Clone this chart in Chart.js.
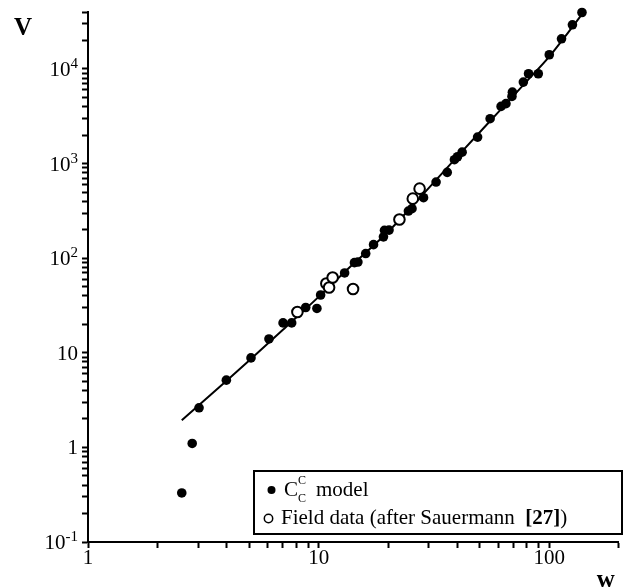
<!DOCTYPE html>
<html>
<head>
<meta charset="utf-8">
<title>V against w</title>
<script src="https://cdn.jsdelivr.net/npm/chart.js@4.4.1/dist/chart.umd.min.js"></script>
<style>
  html, body { margin: 0; padding: 0; background: #fff; }
  #wrap { width: 626px; height: 588px; }
</style>
</head>
<body>
<div id="wrap"><canvas id="chart" width="626" height="588"></canvas></div>
<script>
// C_C^C model results (w, V)
const modelW = [2.55, 2.83, 3.03, 3.98, 5.09, 6.09, 7.01, 7.64, 8.79, 9.83,
  10.2, 12.96, 14.3, 14.8, 16.0, 17.3, 19.1, 19.3, 20.2, 24.5,
  25.4, 28.5, 32.3, 36.1, 38.8, 40.0, 41.9, 48.9, 55.4, 61.8,
  64.9, 68.9, 69.2, 77.2, 81.3, 89.6, 100, 113, 126, 138.6];
const modelV = [0.33, 1.10, 2.62, 5.14, 8.83, 14.0, 20.7, 20.7, 30.1, 29.4,
  40.8, 69.8, 89.7, 91, 112, 139, 168, 197, 198, 315,
  334, 436, 638, 807, 1099, 1180, 1321, 1905, 2980, 4020,
  4300, 5130, 5690, 7260, 8900, 8900, 14130, 20840, 29300, 39500];

// field data (after Sauermann [27])
const fieldW = [8.09, 10.8, 11.1, 11.5, 14.1, 22.4, 25.6, 27.4];
const fieldV = [27.0, 54.0, 48.9, 62.4, 47.3, 256, 426, 543];

// fitted curve
const fitW = [2.55, 4, 5, 7, 10, 14, 20, 30, 40, 60, 80, 100, 120, 141];
const fitV = [1.94, 5.1, 8.3, 17.5, 39, 85, 190, 550, 1190, 3480, 7450, 13500, 23800, 40000];

// axis ticks
const xMinorTicks = [1, 2, 3, 4, 5, 6, 7, 8, 9, 10, 20, 30, 40, 50, 60, 70, 80, 90, 100, 200];
const xTickLabels = [[1, '1'], [10, '10'], [100, '100']];
const yTickLabels = [[0.1, '10', '-1'], [1, '1', ''], [10, '10', ''], [100, '10', '2'], [1000, '10', '3'], [10000, '10', '4']];

const yMinorTicks = [];
[0.1, 1, 10, 100, 1000, 10000].forEach((dec) => {
  for (let k = 1; k <= 9; k++) {
    const v = dec * k;
    if (v <= 40000) yMinorTicks.push(v);
  }
});

const toPoints = (xs, ys) => xs.map((x, i) => ({ x: x, y: ys[i] }));

const SERIF = '"Liberation Serif", "DejaVu Serif", serif';

const textPlugin = {
  id: 'textPlugin',
  afterDraw(chart) {
    const ctx = chart.ctx;
    const xs = chart.scales.x;
    const ys = chart.scales.y;
    const area = chart.chartArea;
    ctx.save();
    ctx.fillStyle = '#000';

    // y labels with exponents
    const rightEdge = area.left - 10;
    yTickLabels.forEach(([v, base, exp]) => {
      const py = ys.getPixelForValue(v);
      ctx.font = '15px ' + SERIF;
      const ew = exp ? ctx.measureText(exp).width : 0;
      ctx.textAlign = 'right';
      ctx.textBaseline = 'alphabetic';
      if (exp) ctx.fillText(exp, rightEdge, py - 1);
      ctx.font = '21px ' + SERIF;
      ctx.fillText(base, rightEdge - ew, py + 7);
    });

    // x labels
    ctx.font = '21px ' + SERIF;
    ctx.textAlign = 'center';
    ctx.textBaseline = 'top';
    xTickLabels.forEach(([v, t]) => {
      ctx.fillText(t, xs.getPixelForValue(v), area.bottom + 6);
    });

    // axis names
    ctx.font = 'bold 25px ' + SERIF;
    ctx.textAlign = 'left';
    ctx.textBaseline = 'alphabetic';
    ctx.fillText('V', 14, 35);
    ctx.fillText('w', area.right - 22, 587);

    // legend
    const bx = 254, by = 471, bw = 368, bh = 63;
    ctx.fillStyle = '#fff';
    ctx.fillRect(bx, by, bw, bh);
    ctx.strokeStyle = '#000';
    ctx.lineWidth = 2;
    ctx.strokeRect(bx, by, bw, bh);
    ctx.fillStyle = '#000';

    ctx.beginPath();
    ctx.arc(271.5, 490, 4, 0, Math.PI * 2);
    ctx.fill();
    ctx.font = '21px ' + SERIF;
    ctx.fillText('C', 284, 496);
    ctx.font = '12px ' + SERIF;
    ctx.fillText('C', 298, 484);
    ctx.fillText('C', 298, 502);
    ctx.font = '21px ' + SERIF;
    ctx.fillText('model', 316, 496);

    ctx.beginPath();
    ctx.arc(268.5, 518.5, 4.2, 0, Math.PI * 2);
    ctx.lineWidth = 1.5;
    ctx.stroke();
    let tx = 281;
    const part1 = 'Field data (after Sauermann  ';
    ctx.font = '21px ' + SERIF;
    ctx.fillText(part1, tx, 524);
    tx += ctx.measureText(part1).width;
    ctx.font = 'bold 21px ' + SERIF;
    ctx.fillText('[27]', tx, 524);
    tx += ctx.measureText('[27]').width;
    ctx.font = '21px ' + SERIF;
    ctx.fillText(')', tx, 524);
    ctx.restore();
  }
};

const axisCommon = {
  type: 'logarithmic',
  border: { display: true, color: '#000', width: 2 },
  grid: {
    display: true,
    drawOnChartArea: false,
    drawTicks: true,
    tickLength: 6,
    tickColor: '#000',
    tickWidth: 2
  },
  ticks: { display: false }
};

new Chart(document.getElementById('chart').getContext('2d'), {
  type: 'scatter',
  data: {
    datasets: [
      {
        label: 'Field data (after Sauermann [27])',
        data: toPoints(fieldW, fieldV),
        pointRadius: 5.3,
        pointBackgroundColor: '#fff',
        pointBorderColor: '#000',
        pointBorderWidth: 2,
        clip: false
      },
      {
        label: 'CcC model',
        data: toPoints(modelW, modelV),
        pointRadius: 4.8,
        pointBackgroundColor: '#000',
        pointBorderColor: '#000',
        pointBorderWidth: 0,
        clip: false
      },
      {
        type: 'line',
        label: 'fit',
        data: toPoints(fitW, fitV),
        borderColor: '#000',
        borderWidth: 2,
        pointRadius: 0,
        tension: 0.4,
        cubicInterpolationMode: 'monotone',
        fill: false
      }
    ]
  },
  options: {
    responsive: false,
    animation: false,
    layout: { padding: { top: 12, right: 7, left: 0, bottom: 0 } },
    plugins: { legend: { display: false }, tooltip: { enabled: false } },
    scales: {
      x: Object.assign({}, axisCommon, {
        min: 1,
        max: 200,
        afterBuildTicks: (scale) => { scale.ticks = xMinorTicks.map((v) => ({ value: v })); },
        afterFit: (scale) => { scale.height = 46; }
      }),
      y: Object.assign({}, axisCommon, {
        min: 0.1,
        max: 40000,
        afterBuildTicks: (scale) => { scale.ticks = yMinorTicks.map((v) => ({ value: v })); },
        afterFit: (scale) => { scale.width = 88; }
      })
    }
  },
  plugins: [textPlugin]
});
</script>
</body>
</html>
